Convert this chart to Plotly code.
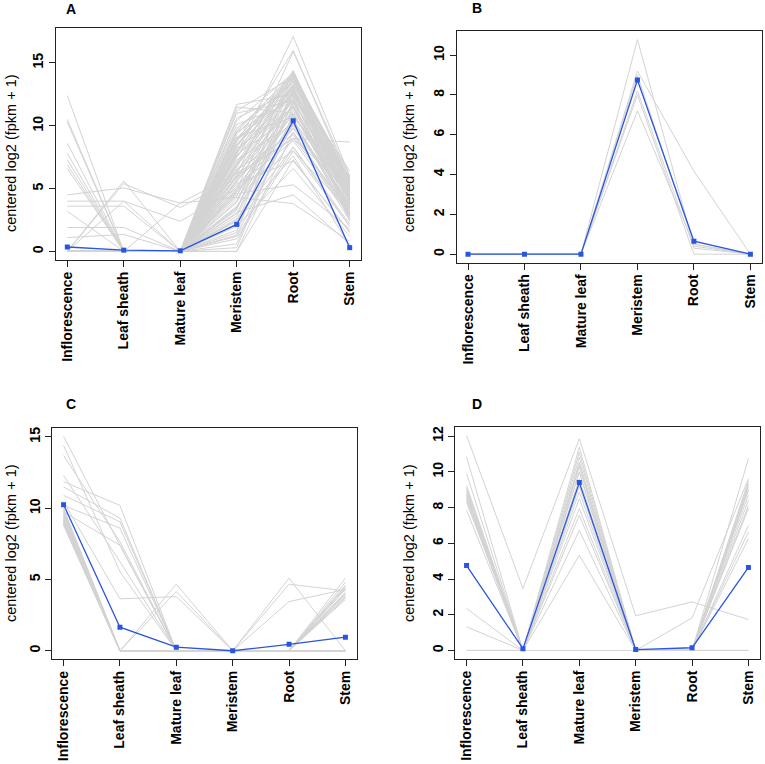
import plotly.graph_objects as go

tissues = ["Inflorescence", "Leaf sheath", "Mature leaf", "Meristem", "Root", "Stem"]

# ---- Panel A ----
a_mean = [0.35, 0.10, 0.05, 2.15, 10.40, 0.30]
a_gray = [
    [12.4, 0, 0, 4.5, 11.0, 3.5],
    [10.5, 0, 0, 6.0, 12.0, 4.5],
    [10.3, 0, 0, 7.5, 13.0, 5.0],
    [8.6, 0, 0, 5.2, 10.5, 3.0],
    [7.8, 0, 0, 8.0, 12.5, 5.5],
    [7.3, 0, 0, 3.5, 9.5, 2.5],
    [6.9, 0, 0, 6.5, 11.5, 4.0],
    [6.6, 0, 0, 9.0, 13.5, 5.8],
    [4.5, 5.05, 3.85, 6.2, 9.0, 4.8],
    [4.0, 4.0, 2.4, 5.0, 8.0, 3.2],
    [3.6, 3.6, 0, 7.0, 12.0, 4.2],
    [3.2, 0, 0, 8.5, 14.0, 6.0],
    [1.9, 1.9, 0, 4.8, 10.0, 3.8],
    [1.1, 1.35, 0, 2.5, 8.3, 2.0],
    [0, 5.6, 0, 7.8, 13.0, 5.2],
    [0, 5.4, 3.5, 5.8, 9.8, 4.4],
    [0, 4.0, 0, 9.5, 14.2, 5.6],
    [0, 0, 3.85, 4.3, 3.8, 0.8],
    [0, 0, 0, 0.0, 7.3, 1.5],
    [0, 0, 0, 0.0, 9.5, 2.8],
    [0, 0, 0, 0.3, 11.0, 3.5],
    [0, 0, 0, 1.0, 8.0, 2.0],
    [0, 0, 0, 1.3, 10.2, 3.0],
    [0, 0, 0, 1.7, 12.0, 4.1],
    [0, 0, 0, 2.0, 6.6, 1.2],
    [0, 0, 0, 2.2, 13.0, 4.6],
    [0, 0, 0, 2.6, 9.0, 3.3],
    [0, 0, 0, 3.0, 11.8, 4.9],
    [0, 0, 0, 3.3, 14.0, 5.3],
    [0, 0, 0, 3.6, 10.5, 2.6],
    [0, 0, 0, 3.9, 12.7, 4.0],
    [0, 0, 0, 4.2, 9.8, 3.6],
    [0, 0, 0, 4.4, 13.6, 5.0],
    [0, 0, 0, 4.7, 11.2, 4.3],
    [0, 0, 0, 5.0, 14.2, 5.7],
    [0, 0, 0, 5.2, 8.8, 2.9],
    [0, 0, 0, 5.5, 12.3, 4.7],
    [0, 0, 0, 5.7, 13.8, 3.9],
    [0, 0, 0, 5.9, 10.8, 5.1],
    [0, 0, 0, 6.1, 15.9, 5.9],
    [0, 0, 0, 6.3, 12.9, 4.4],
    [0, 0, 0, 6.5, 9.3, 3.1],
    [0, 0, 0, 6.7, 14.1, 5.4],
    [0, 0, 0, 6.9, 11.6, 4.0],
    [0, 0, 0, 7.1, 13.3, 5.6],
    [0, 0, 0, 7.3, 10.1, 3.7],
    [0, 0, 0, 7.5, 14.4, 4.8],
    [0, 0, 0, 7.6, 12.1, 5.9],
    [0, 0, 0, 7.8, 17.1, 6.0],
    [0, 0, 0, 8.0, 13.7, 4.2],
    [0, 0, 0, 8.2, 11.4, 3.4],
    [0, 0, 0, 8.3, 14.3, 5.2],
    [0, 0, 0, 8.5, 12.6, 4.6],
    [0, 0, 0, 8.7, 16.0, 5.5],
    [0, 0, 0, 8.9, 13.1, 3.9],
    [0, 0, 0, 9.1, 10.7, 4.9],
    [0, 0, 0, 9.3, 14.0, 5.3],
    [0, 0, 0, 9.5, 12.2, 2.7],
    [0, 0, 0, 9.8, 13.5, 4.5],
    [0, 0, 0, 10.1, 11.9, 5.0],
    [0, 0, 0, 10.4, 14.2, 3.8],
    [0, 0, 0, 10.6, 12.8, 5.8],
    [0, 0, 0, 11.0, 12.0, 4.1],
    [0, 0, 0, 11.2, 13.9, 5.5],
    [0, 0, 0, 11.5, 11.0, 3.2],
    [0, 0, 0, 11.7, 12.5, 4.7],
    [0, 0, 0, 4.6, 5.3, 1.8],
    [0, 0, 0, 6.0, 9.0, 8.7],
    [0, 0, 0, 2.4, 7.6, 0.5],
    [0, 0, 0, 1.2, 8.3, 2.2],
    [0, 0, 0, 3.1, 4.5, 0.6],
    [0, 0, 0, 5.4, 7.2, 1.6],
    [0, 0, 0, 6.8, 13.2, 6.4],
    [0, 0, 0, 7.9, 14.0, 3.0],
    [0, 0, 0, 8.8, 12.9, 2.4],
    [0, 0, 0, 0.6, 10.9, 4.5],
    [0, 0, 0, 1.5, 12.8, 5.1],
    [0, 0, 0, 2.8, 11.5, 3.7],
    [0, 0, 0, 3.4, 12.4, 5.6],
    [0, 0, 0, 4.0, 13.3, 4.8],
    [0, 0, 0, 4.9, 11.8, 2.8],
    [0, 0, 0, 5.6, 10.4, 4.6],
    [0, 0, 0, 6.4, 11.0, 3.3],
    [0, 0, 0, 7.0, 12.7, 2.9],
    [0, 0, 0, 7.7, 10.9, 4.3],
    [0, 0, 0, 8.4, 13.9, 4.9],
    [0, 0, 0, 9.0, 12.4, 5.4],
    [0, 0, 0, 9.6, 14.1, 3.5],
]

# ---- Panel B ----
b_mean = [0.0, 0.0, 0.0, 8.75, 0.65, 0.0]
b_gray = [
    [0, 0, 0, 10.78, 0.4, 0],
    [0, 0, 0, 9.20, 4.17, 0],
    [0, 0, 0, 9.00, 0.5, 0],
    [0, 0, 0, 8.20, 0.3, 0],
    [0, 0, 0, 8.00, 0.0, 0],
    [0, 0, 0, 7.20, 0.5, 0],
]

# ---- Panel C ----
c_mean = [10.25, 1.65, 0.25, 0.0, 0.45, 0.95]
c_gray = [
    [15.05, 7.4, 0, 0, 0, 0],
    [14.4, 5.55, 0, 0, 0, 4.3],
    [13.7, 7.65, 0, 0, 0, 0],
    [12.3, 6.25, 0, 0, 5.09, 0],
    [11.86, 10.2, 0, 0, 0, 0],
    [11.5, 9.3, 0, 0, 0, 4.0],
    [10.9, 9.05, 0, 0, 0, 0],
    [10.46, 3.64, 3.8, 0, 0, 4.5],
    [10.2, 8.6, 0, 0, 4.67, 4.2],
    [9.75, 7.4, 0, 0, 3.45, 4.3],
    [9.5, 0, 4.67, 0, 0, 5.09],
    [9.3, 0, 4.15, 0, 0, 3.8],
    [9.05, 0, 0, 0, 0, 4.0],
    [10.0, 0, 0, 0, 0, 0],
    [9.9, 0, 0, 0, 0, 3.6],
    [9.8, 0, 0, 0, 0, 0],
    [9.7, 0, 0, 0, 0, 4.6],
    [9.6, 0, 0, 0, 0, 0],
    [9.45, 0, 0, 0, 0, 3.7],
    [9.4, 0, 0, 0, 0, 0],
    [9.35, 0, 0, 0, 0, 4.8],
    [9.2, 0, 0, 0, 0, 0],
    [9.15, 0, 0, 0, 0, 3.9],
    [9.1, 0, 0, 0, 0, 0],
    [9.0, 0, 0, 0, 0, 4.4],
    [8.95, 0, 0, 0, 0, 0],
    [8.9, 0, 0, 0, 0, 4.1],
    [8.85, 0, 0, 0, 0, 0],
    [8.8, 0, 0, 0, 0, 0],
]

# ---- Panel D ----
d_mean = [4.75, 0.10, 9.40, 0.05, 0.15, 4.65]
d_gray = [
    [12.04, 3.47, 11.86, 1.94, 2.72, 1.73],
    [0, 0, 5.33, 0, 1.82, 9.62],
    [2.35, 0, 6.73, 0, 0, 10.74],
    [1.32, 0, 7.57, 0, 0, 6.26],
    [10.83, 0, 11.39, 0, 0, 9.34],
    [9.9, 0, 11.1, 0, 0, 8.97],
    [9.24, 0, 10.83, 0, 0, 9.15],
    [8.97, 0, 10.55, 0, 0, 8.7],
    [8.78, 0, 10.27, 0, 0, 7.94],
    [8.59, 0, 9.99, 0, 0, 9.5],
    [8.4, 0, 9.62, 0, 0, 7.0],
    [7.85, 0, 8.87, 0, 0, 6.63],
    [8.9, 0, 8.5, 0, 0, 9.0],
    [8.7, 0, 7.94, 0, 0, 8.4],
    [9.1, 0, 10.0, 0, 0, 0],
    [8.5, 0, 9.2, 0, 0, 9.3],
    [8.3, 0, 10.4, 0, 0, 8.1],
    [0, 0, 0, 0, 0, 0],
]

panels = [
    dict(label="A", gray=a_gray, mean=a_mean, yr=[-0.684, 17.78], ticks=[0, 5, 10, 15],
         xd=[56 / 765, 361 / 765], yd=[1 - 260 / 764, 1 - 28 / 764], lab=(71, 9), ttl=(11, 153)),
    dict(label="B", gray=b_gray, mean=b_mean, yr=[-0.43, 11.21], ticks=[0, 2, 4, 6, 8, 10],
         xd=[456.7 / 765, 761.7 / 765], yd=[1 - 262.7 / 764, 1 - 31 / 764], lab=(477, 8), ttl=(409, 153)),
    dict(label="C", gray=c_gray, mean=c_mean, yr=[-0.6, 15.65], ticks=[0, 5, 10, 15],
         xd=[52.3 / 765, 356.7 / 765], yd=[1 - 659.3 / 764, 1 - 427.7 / 764], lab=(71, 404), ttl=(11, 543)),
    dict(label="D", gray=d_gray, mean=d_mean, yr=[-0.48, 12.53], ticks=[0, 2, 4, 6, 8, 10, 12],
         xd=[455.3 / 765, 759.7 / 765], yd=[1 - 659 / 764, 1 - 426.7 / 764], lab=(477, 404), ttl=(409, 543)),
]

FONT = "Arial, Liberation Sans, sans-serif"
GRAY = "#d3d3d3"
BLUE = "#2a55e0"

fig = go.Figure()
layout = dict(
    width=765, height=764, margin=dict(l=0, r=0, t=0, b=0),
    paper_bgcolor="white", plot_bgcolor="white", showlegend=False,
    font=dict(family=FONT, color="black"),
)
annotations = []

for i, p in enumerate(panels):
    n = "" if i == 0 else str(i + 1)
    xs, ys = [], []
    for row in p["gray"]:
        xs += tissues + [None]
        ys += row + [None]
    fig.add_trace(go.Scatter(x=xs, y=ys, mode="lines", line=dict(color=GRAY, width=1),
                             xaxis="x" + n, yaxis="y" + n, hoverinfo="skip"))
    fig.add_trace(go.Scatter(x=tissues, y=p["mean"], mode="lines+markers",
                             line=dict(color=BLUE, width=1.3),
                             marker=dict(symbol="square", size=5, color=BLUE),
                             xaxis="x" + n, yaxis="y" + n))
    layout["xaxis" + n] = dict(
        domain=p["xd"], anchor="y" + n, type="category", categoryorder="array",
        categoryarray=tissues, range=[-0.2, 5.2], tickangle=-90,
        tickfont=dict(family=FONT, size=14, color="black", weight="bold"),
        showline=True, linecolor="#222", linewidth=1, mirror=True,
        ticks="outside", ticklen=6, tickcolor="#222", showgrid=False, zeroline=False,
        ticklabelstandoff=-1,
    )
    layout["yaxis" + n] = dict(
        domain=p["yd"], anchor="x" + n, range=p["yr"], tickvals=p["ticks"], tickangle=-90,
        tickfont=dict(family=FONT, size=14, color="black", weight="bold"),
        showline=True, linecolor="#222", linewidth=1, mirror=True,
        ticks="outside", ticklen=6, tickcolor="#222", showgrid=False, zeroline=False,
    )
    annotations.append(dict(text="<b>" + p["label"] + "</b>", x=p["lab"][0] / 765, y=1 - p["lab"][1] / 764,
                            xref="paper", yref="paper", showarrow=False, xanchor="center", yanchor="middle",
                            font=dict(family=FONT, size=14, color="black")))
    annotations.append(dict(text="centered log2 (fpkm + 1)", x=p["ttl"][0] / 765, y=1 - p["ttl"][1] / 764,
                            xref="paper", yref="paper", showarrow=False, textangle=-90,
                            xanchor="center", yanchor="middle",
                            font=dict(family=FONT, size=14.5, color="black")))

layout["annotations"] = annotations
fig.update_layout(**layout)
fig.write_html("out.html", config={"displayModeBar": False},
               post_script="document.body.style.margin='0';")
